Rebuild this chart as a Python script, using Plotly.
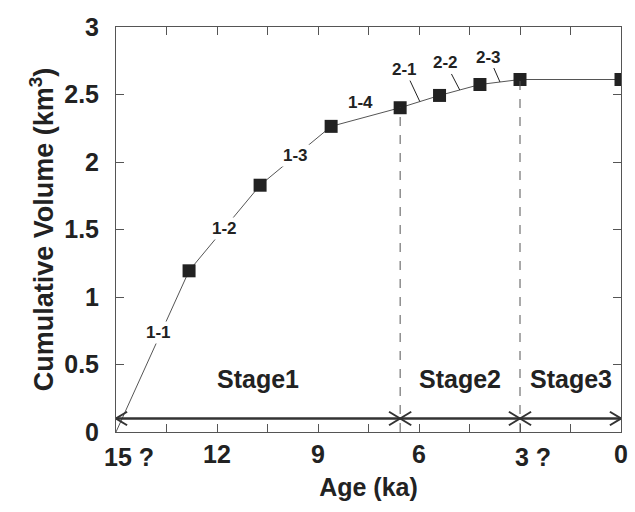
import plotly.graph_objects as go

# ---- data ----
age_start = [15.0]
vol_start = [0.0]
ages = [12.83, 10.72, 8.61, 6.56, 5.39, 4.19, 3.0, 0.0]
volumes = [1.194, 1.828, 2.264, 2.402, 2.493, 2.574, 2.611, 2.611]
segment_labels = ["1-1", "1-2", "1-3", "1-4", "2-1", "2-2", "2-3"]
stage_bounds = [15.0, 6.56, 3.0, 0.0]
stage_names = ["Stage1", "Stage2", "Stage3"]
x_tickvals = [15, 12, 9, 6, 3, 0]
x_ticktext = ["15 ?", "12", "9", "6", "3 ?", "0"]
y_tickvals = [0, 0.5, 1, 1.5, 2, 2.5, 3]
y_ticktext = ["0", "0.5", "1", "1.5", "2", "2.5", "3"]
arrow_y = 0.1

FONT = "Liberation Sans, Arial, sans-serif"
DARK = "#222222"
LINEC = "#555555"
TICKSIZE = 25

all_x = age_start + ages
all_y = vol_start + volumes

fig = go.Figure()
fig.add_trace(go.Scatter(x=all_x, y=all_y, mode="lines",
                         line=dict(color=LINEC, width=1), hoverinfo="skip"))
fig.add_trace(go.Scatter(x=ages, y=volumes, mode="markers",
                         marker=dict(symbol="square", size=13, color=DARK,
                                     line=dict(width=0))))

shapes = []
# dashed stage boundary lines
for b in stage_bounds[1:-1]:
    idx = min(range(len(ages)), key=lambda i: abs(ages[i] - b))
    shapes.append(dict(type="line", x0=b, x1=b, y0=0, y1=volumes[idx],
                       xref="x", yref="y",
                       line=dict(color=LINEC, width=1, dash="dash")))
# stage arrow line
shapes.append(dict(type="line", x0=stage_bounds[0], x1=stage_bounds[-1],
                   y0=arrow_y, y1=arrow_y, xref="x", yref="y",
                   line=dict(color="#333333", width=2.5)))
# open arrowheads at each stage end
dx, dy = 0.33, 0.05
for i in range(len(stage_bounds) - 1):
    left, right = stage_bounds[i], stage_bounds[i + 1]
    for tip, sgn in ((left, -1), (right, 1)):
        for s in (1, -1):
            shapes.append(dict(type="line", x0=tip + sgn * dx, x1=tip,
                               y0=arrow_y + s * dy, y1=arrow_y,
                               xref="x", yref="y",
                               line=dict(color="#333333", width=2)))

annotations = []
lab_font = dict(family=FONT, size=17, color=DARK)
# segment labels
seg_x0 = all_x[:-1]
seg_y0 = all_y[:-1]
seg_x1 = all_x[1:]
seg_y1 = all_y[1:]
fracs = [0.62, 0.5, 0.5, 0.5, 0.5, 0.5, 0.5]
for i, lab in enumerate(segment_labels):
    f = fracs[i]
    mx = seg_x0[i] + f * (seg_x1[i] - seg_x0[i])
    my = seg_y0[i] + f * (seg_y1[i] - seg_y0[i])
    if i < 3:
        annotations.append(dict(x=mx, y=my, text="<b>%s</b>" % lab, showarrow=False,
                                bgcolor="white", font=lab_font, xshift=-3 if i == 0 else 0))
    elif i == 3:
        annotations.append(dict(x=mx, y=my, text="<b>%s</b>" % lab, showarrow=False,
                                yshift=15, xshift=-5, font=lab_font))
    else:
        offs = {4: (-15, -32), 5: (-14, -27), 6: (-11, -25)}[i]
        annotations.append(dict(x=mx, y=my, text="<b>%s</b>" % lab, showarrow=True,
                                arrowhead=0, arrowwidth=1, arrowcolor=DARK,
                                ax=offs[0], ay=offs[1], standoff=0,
                                font=lab_font))
# stage names
for i, name in enumerate(stage_names):
    cx = (stage_bounds[i] + stage_bounds[i + 1]) / 2
    annotations.append(dict(x=cx, y=0.39, text="<b>%s</b>" % name, showarrow=False,
                            font=dict(family=FONT, size=25, color=DARK)))

# x tick labels: plain ones via axis, uncertain ("?") ones as annotations so
# the number stays centred on its tick
plain_vals = [v for v, t in zip(x_tickvals, x_ticktext) if "?" not in t]
plain_text = ["<b>%s</b>" % t for t in x_ticktext if "?" not in t]
for v, t in zip(x_tickvals, x_ticktext):
    if "?" in t:
        num = t.split()[0]
        annotations.append(dict(x=v, y=0, xref="x", yref="paper",
                                text="<b>%s</b>" % t, showarrow=False, xanchor="left",
                                yanchor="top", yshift=-9,
                                xshift=-round(0.556 * TICKSIZE * len(num) / 2),
                                font=dict(family=FONT, size=TICKSIZE, color=DARK)))

fig.update_layout(
    width=635, height=512,
    margin=dict(l=116, r=7, t=27, b=80),
    paper_bgcolor="white", plot_bgcolor="white",
    showlegend=False,
    shapes=shapes, annotations=annotations,
    font=dict(family=FONT, color=DARK),
)
fig.update_xaxes(
    range=[15, 0], tickmode="array", tickvals=plain_vals, ticktext=plain_text,
    minor=dict(dtick=1.5, ticks="inside", ticklen=8, tickcolor=LINEC, tick0=0),
    ticks="inside", ticklen=8, tickcolor=LINEC,
    showline=True, linecolor=LINEC, linewidth=1, mirror="allticks",
    showgrid=False, zeroline=False,
    tickfont=dict(family=FONT, size=TICKSIZE, color=DARK),
    title=dict(text="<b>Age (ka)</b>", font=dict(family=FONT, size=25, color=DARK), standoff=11),
)
fig.update_yaxes(
    range=[0, 3], tickmode="array", tickvals=y_tickvals,
    ticktext=["<b>%s</b>" % t for t in y_ticktext],
    ticks="inside", ticklen=8, tickcolor=LINEC,
    showline=True, linecolor=LINEC, linewidth=1, mirror="allticks",
    showgrid=False, zeroline=False,
    tickfont=dict(family=FONT, size=TICKSIZE, color=DARK),
    ticklabelstandoff=11,
    title=dict(text="<b>Cumulative Volume (km<sup>3</sup>)</b>",
               font=dict(family=FONT, size=27, color=DARK), standoff=2),
)

fig.write_html("out.html", config={"displayModeBar": False},
               post_script="document.body.style.margin='0px';")
